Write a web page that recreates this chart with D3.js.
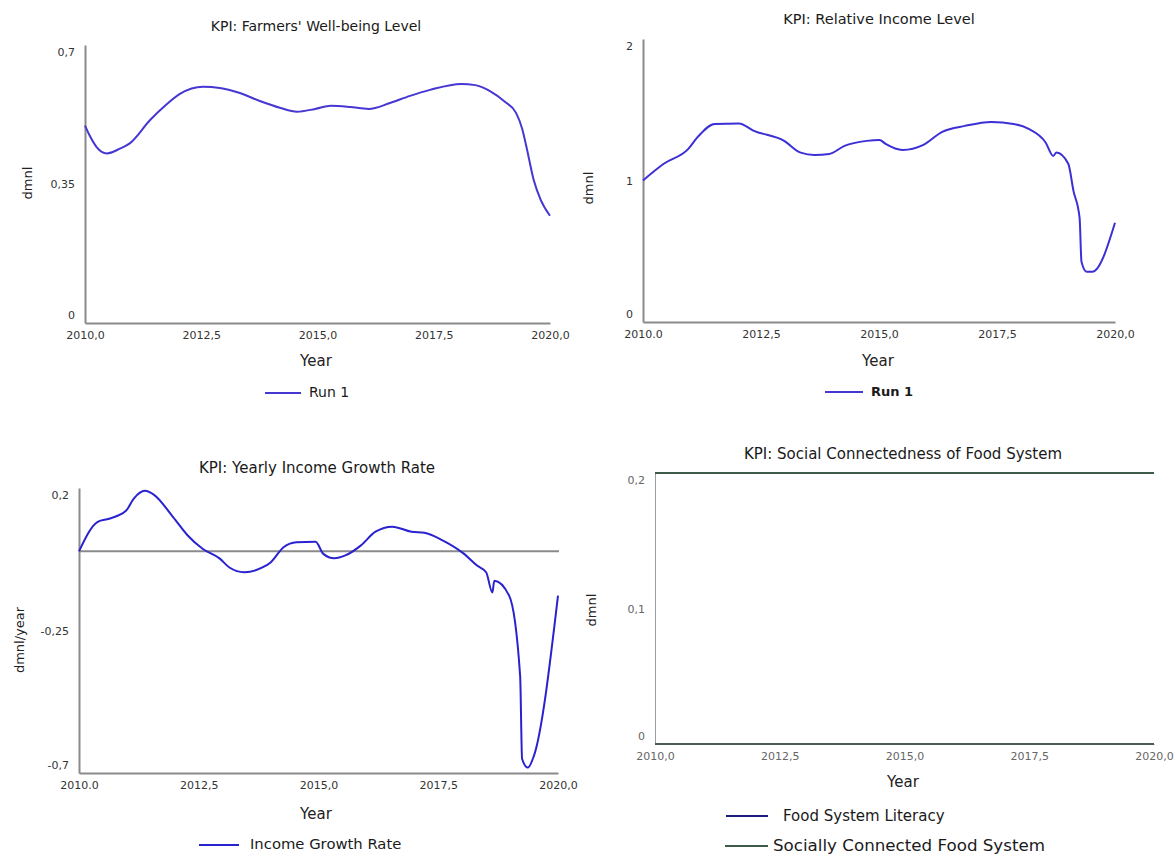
<!DOCTYPE html>
<html>
<head>
<meta charset="utf-8">
<script src="https://cdn.jsdelivr.net/npm/d3@7"></script>
<style>
  body { margin: 0; background: #fff; }
  text { font-family: "DejaVu Sans", Verdana, sans-serif; }
</style>
</head>
<body>
<svg id="vis" width="1174" height="854"></svg>
<script>
// ---- data ----
// KPI: Farmers' Well-being Level
var years1 = [2010.0, 2010.1, 2010.25, 2010.47, 2010.75, 2010.97, 2011.4, 2011.72, 2012.04, 2012.54, 2012.9,
  2013.33, 2013.76, 2014.19, 2014.56, 2014.95, 2015.29, 2015.7, 2016.1, 2016.56, 2016.99,
  2017.42, 2018.09, 2018.39, 2018.71, 2019.03, 2019.27, 2019.4, 2019.5, 2019.65, 2019.8, 2020.0];
var wellbeing = [0.497, 0.472, 0.443, 0.427, 0.439, 0.453, 0.511, 0.547, 0.577, 0.595, 0.592,
  0.579, 0.559, 0.542, 0.532, 0.539, 0.547, 0.544, 0.539, 0.554, 0.572,
  0.587, 0.602, 0.599, 0.584, 0.557, 0.529, 0.49, 0.44, 0.36, 0.31, 0.27];

// KPI: Relative Income Level
var years2 = [2010.0, 2010.44, 2010.96, 2011.16, 2011.52, 2012.03, 2012.35, 2012.99, 2013.34, 2013.63,
  2013.95, 2014.27, 2014.74, 2015.01, 2015.14, 2015.5, 2015.94, 2016.34, 2016.82, 2017.38,
  2017.85, 2018.17, 2018.53, 2018.69, 2018.76, 2019.01, 2019.12, 2019.25, 2019.29, 2019.4,
  2019.52, 2020.0];
var relIncome = [1.0, 1.118, 1.223, 1.308, 1.40, 1.403, 1.351, 1.28, 1.197, 1.181,
  1.188, 1.245, 1.28, 1.287, 1.259, 1.216, 1.252, 1.344, 1.386, 1.414,
  1.40, 1.365, 1.269, 1.174, 1.197, 1.118, 0.927, 0.736, 0.426, 0.355,
  0.355, 0.701];

// KPI: Yearly Income Growth Rate
var years3 = [2010.0, 2010.39, 2010.63, 2010.98, 2011.14, 2011.38, 2011.56, 2011.96, 2012.27, 2012.58,
  2012.94, 2013.14, 2013.45, 2013.83, 2014.0, 2014.27, 2014.54, 2014.94, 2015.1, 2015.33,
  2015.56, 2015.88, 2016.19, 2016.54, 2016.94, 2017.21, 2017.6, 2018.04, 2018.31, 2018.5,
  2018.63, 2018.67, 2018.98, 2019.21, 2019.25, 2019.37, 2019.49, 2020.0];
var growthRate = [0.0, 0.093, 0.103, 0.128, 0.166, 0.191, 0.179, 0.109, 0.05, 0.008,
  -0.023, -0.051, -0.066, -0.051, -0.035, 0.013, 0.029, 0.03, -0.008, -0.022,
  -0.013, 0.018, 0.062, 0.078, 0.062, 0.059, 0.034, -0.008, -0.045, -0.066,
  -0.13, -0.093, -0.14, -0.395, -0.655, -0.683, -0.649, -0.14];

// KPI: Social Connectedness of Food System
var years4 = [2010.0, 2020.0];
var literacy = [0, 0];
var socialConn = [0.2, 0.2];

var xTicks = [2010, 2012.5, 2015, 2017.5, 2020];
var xLabelsComma = ["2010,0", "2012,5", "2015,0", "2017,5", "2020,0"];
var xLabelsDot = ["2010.0", "2012,5", "2015,0", "2017,5", "2020,0"];
var yTicks1 = [0, 0.35, 0.7], yLabels1 = ["0", "0,35", "0,7"];
var yTicks2 = [0, 1, 2], yLabels2 = ["0", "1", "2"];
var yTicks3 = [-0.7, -0.25, 0.2], yLabels3 = ["-0,7", "-0,25", "0,2"];
var yTicks4 = [0, 0.1, 0.2], yLabels4 = ["0", "0,1", "0,2"];

const svg = d3.select('#vis');

function zip(xs, ys) {
  return xs.map(function(x, i) { return { t: x, v: ys[i] }; });
}

function drawPanel(p) {
  var x = d3.scaleLinear().domain([2010, 2020]).range([p.left, p.right]);
  var y = d3.scaleLinear().domain(p.yDomain).range([p.bottom, p.top]);
  var g = svg.append('g');

  // x axis
  var xa = g.append('g')
    .attr('transform', 'translate(0,' + p.bottom + ')')
    .call(d3.axisBottom(x).tickValues(xTicks).tickSize(0).tickSizeOuter(0).tickPadding(8)
      .tickFormat(function(d, i) { return p.xLabels[i]; }));
  xa.select('.domain').attr('stroke', p.axisColor).attr('stroke-width', p.axisWidth);
  xa.selectAll('text').attr('font-size', 11).attr('fill', p.tickColor)
    .attr('font-family', '"DejaVu Sans", Verdana, sans-serif');

  // y axis
  var ya = g.append('g')
    .attr('transform', 'translate(' + p.left + ',0)')
    .call(d3.axisLeft(y).tickValues(p.yTicks).tickSize(0).tickSizeOuter(0).tickPadding(10)
      .tickFormat(function(d, i) { return p.yLabels[i]; }));
  ya.select('.domain').attr('stroke', p.axisColor).attr('stroke-width', p.axisWidth);
  ya.selectAll('text').attr('font-size', 11).attr('fill', p.tickColor)
    .attr('font-family', '"DejaVu Sans", Verdana, sans-serif')
    .attr('transform', function(d) {
      // end labels sit a little inside the axis, as in the original tool
      if (d === p.yDomain[1]) return 'translate(0,7)';
      if (d === p.yDomain[0]) return 'translate(0,-8)';
      return null;
    });

  if (p.zeroLine) {
    g.append('line')
      .attr('x1', x(2010)).attr('x2', x(2020) + 1)
      .attr('y1', y(0)).attr('y2', y(0))
      .attr('stroke', '#8a8a8a').attr('stroke-width', 2);
  }

  // series
  p.series.forEach(function(s) {
    g.append('path')
      .datum(zip(s.xs, s.ys))
      .attr('fill', 'none')
      .attr('stroke', s.color)
      .attr('stroke-width', s.width)
      .attr('d', d3.line()
        .curve(s.curve)
        .x(function(d) { return x(d.t); })
        .y(function(d) { return y(d.v); }));
  });

  // title
  g.append('text')
    .text(p.title)
    .attr('x', p.titleX).attr('y', p.titleY)
    .attr('text-anchor', 'middle').attr('dominant-baseline', 'middle')
    .attr('font-size', p.titleSize).attr('fill', '#1a1a1a');

  // axis names
  g.append('text')
    .text('Year')
    .attr('x', p.yearX).attr('y', p.yearY)
    .attr('text-anchor', 'middle').attr('dominant-baseline', 'middle')
    .attr('font-size', 15).attr('fill', '#222');
  g.append('text')
    .text(p.yName)
    .attr('transform', 'translate(' + p.yNameX + ',' + p.yNameY + ') rotate(-90)')
    .attr('text-anchor', 'middle').attr('dominant-baseline', 'middle')
    .attr('font-size', 13).attr('fill', '#222');

  // legend
  p.legend.forEach(function(l) {
    g.append('line')
      .attr('x1', l.x1).attr('x2', l.x2).attr('y1', l.y).attr('y2', l.y)
      .attr('stroke', l.color).attr('stroke-width', 2);
    g.append('text')
      .text(l.label)
      .attr('x', l.tx).attr('y', l.y)
      .attr('dominant-baseline', 'middle')
      .attr('font-size', l.size).attr('font-weight', l.weight || 'normal')
      .attr('fill', '#1a1a1a');
  });
}

drawPanel({
  left: 85, right: 550, top: 45, bottom: 323, yDomain: [0, 0.7],
  yTicks: yTicks1, yLabels: yLabels1, xLabels: xLabelsComma,
  axisColor: '#8a8a8a', axisWidth: 2, tickColor: '#333',
  title: "KPI: Farmers' Well-being Level", titleX: 316, titleY: 27, titleSize: 14,
  yName: 'dmnl', yNameX: 28, yNameY: 183, yearX: 316, yearY: 361,
  series: [{ xs: years1, ys: wellbeing, color: '#4637d3', width: 2, curve: d3.curveMonotoneX }],
  legend: [{ x1: 265, x2: 301, y: 393, tx: 309, label: 'Run 1', size: 14, color: '#4637d3' }]
});

drawPanel({
  left: 643, right: 1115, top: 39, bottom: 322, yDomain: [0, 2],
  yTicks: yTicks2, yLabels: yLabels2, xLabels: xLabelsDot,
  axisColor: '#8a8a8a', axisWidth: 2, tickColor: '#333',
  title: 'KPI: Relative Income Level', titleX: 879, titleY: 20, titleSize: 14.5,
  yName: 'dmnl', yNameX: 589, yNameY: 188, yearX: 878, yearY: 361,
  series: [{ xs: years2, ys: relIncome, color: '#3c2fd6', width: 2, curve: d3.curveMonotoneX }],
  legend: [{ x1: 825, x2: 863, y: 392, tx: 871, label: 'Run 1', size: 13, weight: 'bold', color: '#4637d3' }]
});

drawPanel({
  left: 79, right: 558, top: 488, bottom: 773, yDomain: [-0.7, 0.2],
  yTicks: yTicks3, yLabels: yLabels3, xLabels: xLabelsDot,
  axisColor: '#8a8a8a', axisWidth: 2, tickColor: '#333', zeroLine: true,
  title: 'KPI: Yearly Income Growth Rate', titleX: 317, titleY: 468, titleSize: 15,
  yName: 'dmnl/year', yNameX: 20, yNameY: 640, yearX: 316, yearY: 814,
  series: [{ xs: years3, ys: growthRate, color: '#2a22cf', width: 2, curve: d3.curveMonotoneX }],
  legend: [{ x1: 199, x2: 239, y: 845, tx: 250, label: 'Income Growth Rate', size: 14.8, color: '#2a22cf' }]
});

drawPanel({
  left: 655, right: 1154, top: 473, bottom: 744, yDomain: [0, 0.2],
  yTicks: yTicks4, yLabels: yLabels4, xLabels: xLabelsComma,
  axisColor: '#9aa0a0', axisWidth: 1, tickColor: '#666',
  title: 'KPI: Social Connectedness of Food System', titleX: 903, titleY: 454, titleSize: 15,
  yName: 'dmnl', yNameX: 592, yNameY: 610, yearX: 903, yearY: 782,
  series: [
    { xs: years4, ys: literacy, color: '#4a5858', width: 2, curve: d3.curveLinear },
    { xs: years4, ys: socialConn, color: '#3e5c4c', width: 2, curve: d3.curveLinear }
  ],
  legend: [
    { x1: 726, x2: 768, y: 816, tx: 783, label: 'Food System Literacy', size: 15, color: '#1c1c7a' },
    { x1: 725, x2: 768, y: 846, tx: 773, label: 'Socially Connected Food System', size: 16.7, color: '#3e5c4c' }
  ]
});
</script>
</body>
</html>
